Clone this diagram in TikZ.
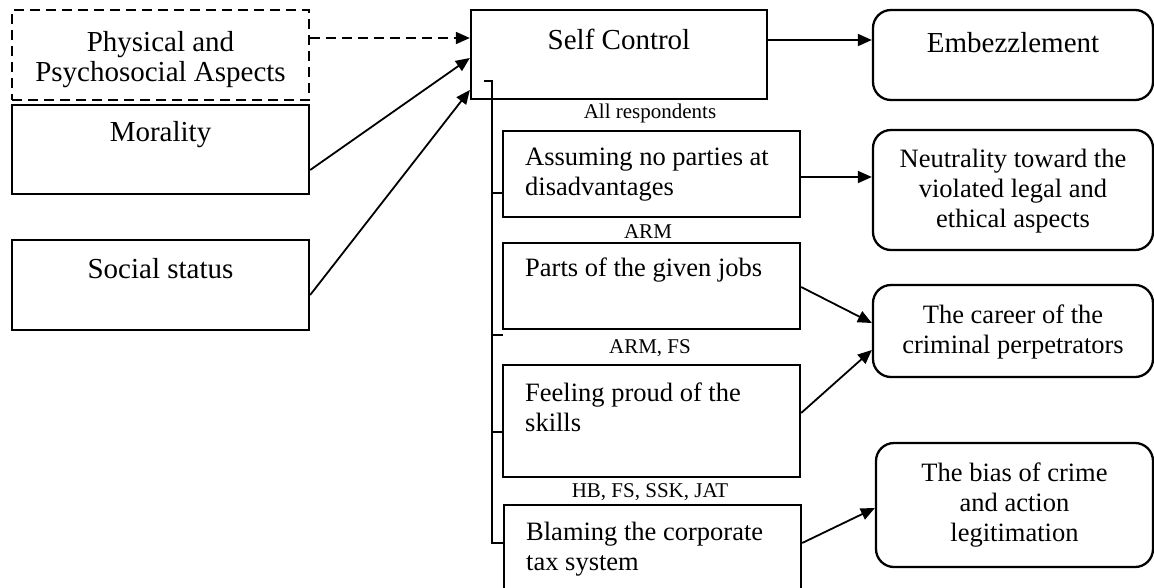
\documentclass[tikz,border=0pt]{standalone}
\usepackage{fontspec}
\setmainfont{Liberation Serif}
\usetikzlibrary{arrows.meta}

\begin{document}
\begin{tikzpicture}[x=1pt,y=-1pt,
  box/.style={draw, line width=2.3pt, inner sep=0pt},
  rbox/.style={box, rounded corners=18pt},
  txt/.style={font=\fontsize{29}{30}\selectfont, align=center, inner sep=0pt},
  stxt/.style={txt, font=\fontsize{26.5}{30}\selectfont},
  ltxt/.style={stxt, align=left, anchor=west},
  tag/.style={font=\fontsize{21}{22}\selectfont, inner sep=0pt},
  arr/.style={line width=1.8pt, -{Triangle[length=14pt,width=12pt]}}]

\clip (0,0) rectangle (1154,587);

\node[box, dashed, dash pattern=on 10pt off 6pt, minimum width=297pt, minimum height=90pt] (phys) at (160.5,55) {};
\node[box, minimum width=297pt, minimum height=89pt] (moral) at (160.5,149.5) {};
\node[box, minimum width=297pt, minimum height=90pt] (social) at (160.5,285) {};
\node[txt] (phys-t) at (160.5,60) {Physical and\\Psychosocial Aspects};
\node[txt] (moral-t) at (160.5,135) {Morality};
\node[txt] (social-t) at (160.5,269) {Social status};

\node[box, minimum width=296pt, minimum height=89pt] (self) at (619,54.5) {};
\node[txt] (self-t) at (619,39) {Self Control};

\node[box, minimum width=297pt, minimum height=86pt] (assume) at (651.5,174) {};
\node[box, minimum width=297pt, minimum height=86pt] (parts) at (651.5,286) {};
\node[box, minimum width=297pt, minimum height=112pt] (feel) at (651.5,421) {};
\node[box, minimum width=297pt, minimum height=115pt] (blame) at (652.5,562.5) {};
\node[ltxt] (assume-t) at (525,175) {Assuming no parties at\\disadvantages};
\node[ltxt] (parts-t) at (525,270) {Parts of the given jobs};
\node[ltxt] (feel-t) at (525,407) {Feeling proud of the\\skills};
\node[ltxt] (blame-t) at (526,549) {Blaming the corporate\\tax system};

\node[tag] (all) at (650,113) {All respondents};
\node[tag] (arm) at (648,232) {ARM};
\node[tag] (armfs) at (650,348) {ARM, FS};
\node[tag] (hb) at (650,492) {HB, FS, SSK, JAT};

\node[rbox, minimum width=280pt, minimum height=90pt] (emb) at (1013,55) {};
\node[rbox, minimum width=280pt, minimum height=120pt] (neut) at (1013,190) {};
\node[rbox, minimum width=280pt, minimum height=92pt] (career) at (1013,331) {};
\node[rbox, minimum width=277pt, minimum height=124pt] (bias) at (1014.5,505) {};
\node[txt] (emb-t) at (1013,43) {Embezzlement};
\node[stxt] (neut-t) at (1013,191) {Neutrality toward the\\violated legal and\\ethical aspects};
\node[stxt] (career-t) at (1013,332) {The career of the\\criminal perpetrators};
\node[stxt] (bias-t) at (1014.5,505) {The bias of crime\\and action\\legitimation};

\draw[line width=2.3pt] (484,81) -- (492,81) -- (492,543) -- (503,543);
\foreach \y in {193,335,432}
  \draw[line width=2.3pt] (492,\y) -- (503,\y);

\draw[arr, dash pattern=on 10pt off 6pt] ([yshift=17pt]phys.east) -- ([yshift=16.5pt]self.west);
\draw[arr] ([yshift=-20.5pt]moral.east) -- ([yshift=-3.5pt]self.west);
\draw[arr] ([yshift=-10pt]social.east) -- ([yshift=-35.5pt]self.west);
\draw[arr] ([yshift=14.5pt]self.east) -- ([yshift=15pt]emb.west);
\draw[arr] ([yshift=-3pt]assume.east) -- ([yshift=13pt]neut.west);
\draw[arr] ([yshift=-1pt]parts.east) -- ([yshift=8pt]career.west);
\draw[arr] ([yshift=8pt]feel.east) -- ([yshift=-19pt]career.west);
\draw[arr] ([yshift=19.5pt]blame.east) -- ([yshift=-3pt]bias.west);
\end{tikzpicture}
\end{document}
